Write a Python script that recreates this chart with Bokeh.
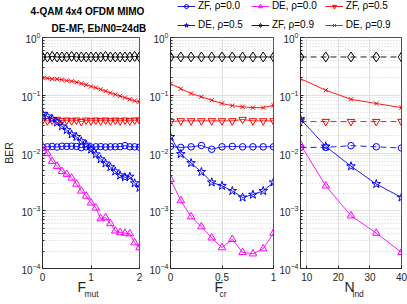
from bokeh.plotting import figure
from bokeh.layouts import row, column
from bokeh.models import ColumnDataSource, FixedTicker, Title, Legend, LegendItem
from bokeh.embed import file_html
from bokeh.resources import INLINE

# ---------------- data ----------------
F_mut = [0.0, 0.1, 0.2, 0.3, 0.4, 0.5, 0.6, 0.7, 0.8, 0.9, 1.0,
         1.1, 1.2, 1.3, 1.4, 1.5, 1.6, 1.7, 1.8, 1.9, 2.0]
mut_zf00 = [0.0125, 0.0128, 0.0130, 0.0127, 0.0131, 0.0130, 0.0131, 0.0130, 0.0124, 0.0128, 0.0127,
            0.0128, 0.0129, 0.0127, 0.0128, 0.0128, 0.0129, 0.0134, 0.0128, 0.0128, 0.0126]
mut_de00 = [0.0130, 0.0098, 0.0072, 0.0059, 0.0048, 0.0043, 0.0037, 0.0029, 0.0022, 0.0018, 0.00137,
            0.00112, 0.00073, 0.00076, 0.00060, 0.00045, 0.00042, 0.00041, 0.00040, 0.00028, 0.00023]
mut_zf05 = [0.037, 0.036, 0.037, 0.038, 0.036, 0.037, 0.036, 0.037, 0.035, 0.037, 0.036,
            0.037, 0.036, 0.037, 0.036, 0.037, 0.036, 0.037, 0.036, 0.037, 0.037]
mut_de05 = [0.048, 0.043, 0.039, 0.034, 0.029, 0.025, 0.021, 0.019, 0.016, 0.014, 0.0115,
            0.0095, 0.0078, 0.0066, 0.0057, 0.0048, 0.0041, 0.0038, 0.0039, 0.0030, 0.0025]
mut_zf09 = [0.46, 0.46, 0.47, 0.46, 0.46, 0.46, 0.47, 0.46, 0.46, 0.46, 0.46,
            0.46, 0.46, 0.47, 0.46, 0.46, 0.46, 0.46, 0.46, 0.47, 0.46]
mut_de09 = [0.200, 0.197, 0.192, 0.190, 0.186, 0.180, 0.175, 0.168, 0.160, 0.152, 0.142,
            0.135, 0.126, 0.118, 0.110, 0.103, 0.097, 0.091, 0.085, 0.080, 0.077]

F_cr = [0.0, 0.1, 0.2, 0.3, 0.4, 0.5, 0.6, 0.7, 0.8, 0.9, 1.0]
cr_zf00 = [0.0130, 0.0125, 0.0128, 0.0135, 0.0116, 0.0128, 0.0130, 0.0128, 0.0128, 0.0128, 0.0128]
cr_de00 = [0.0035, 0.0015, 0.00079, 0.00053, 0.00034, 0.00023, 0.00032, 0.00019, 0.00018, 0.00022, 0.00041]
cr_zf05 = [0.035, 0.036, 0.036, 0.036, 0.036, 0.036, 0.036, 0.038, 0.036, 0.036, 0.036]
cr_de05 = [0.019, 0.0096, 0.0067, 0.0047, 0.0031, 0.0027, 0.0022, 0.0017, 0.0019, 0.0022, 0.0031]
cr_zf09 = [0.46, 0.46, 0.46, 0.46, 0.46, 0.46, 0.46, 0.46, 0.46, 0.46, 0.46]
cr_de09 = [0.158, 0.130, 0.107, 0.094, 0.082, 0.072, 0.066, 0.063, 0.061, 0.061, 0.067]

N_ind = [8, 16, 24, 32, 40]
ind_zf00 = [0.0125, 0.0125, 0.0134, 0.0128, 0.0122]
ind_de00 = [0.014, 0.0027, 0.00082, 0.00041, 0.00019]
ind_zf05 = [0.035, 0.035, 0.035, 0.035, 0.035]
ind_de05 = [0.0387, 0.013, 0.0059, 0.0029, 0.0017]
ind_zf09 = [0.46, 0.46, 0.46, 0.46, 0.46]
ind_de09 = [0.193, 0.122, 0.085, 0.072, 0.061]

labels = ["ZF, \u03c1=0.0", "DE, \u03c1=0.0", "ZF, \u03c1=0.5",
          "DE, \u03c1=0.5", "ZF, \u03c1=0.9", "DE, \u03c1=0.9"]
y_ticks = [1e-4, 1e-3, 1e-2, 1e-1, 1.0]
y_minor = [2e-4, 3e-4, 4e-4, 5e-4, 6e-4, 7e-4, 8e-4, 9e-4,
           2e-3, 3e-3, 4e-3, 5e-3, 6e-3, 7e-3, 8e-3, 9e-3,
           2e-2, 3e-2, 4e-2, 5e-2, 6e-2, 7e-2, 8e-2, 9e-2,
           2e-1, 3e-1, 4e-1, 5e-1, 6e-1, 7e-1, 8e-1, 9e-1]

# ---------------- styles ----------------
AX = "#262626"
FONT = "Liberation Sans"
STY = [  # color, marker, size, is_zf
    ("#0000FF", "circle", 6.5, True),
    ("#FF00FF", "triangle", 7.5, False),
    ("#FF0000", "inverted_triangle", 7.5, True),
    ("#0000FF", "star", 9, False),
    ("#000000", "diamond", 10, True),
    ("#FF0000", "x", 6, False),
]


def make_panel(x, ys, xr, xticks, overrides, width, height, bl, br, bt, bb,
               dashed_zf, sym, sub, sym_off, sub_off):
    p = figure(width=width, height=height, x_range=xr, y_range=(1e-4, 1.0),
               y_axis_type="log", toolbar_location=None, output_backend="svg",
               min_border_left=bl, min_border_right=br, min_border_top=bt,
               min_border_bottom=bb)
    p.outline_line_color = AX
    p.outline_line_width = 0.8
    xt = FixedTicker(ticks=xticks)
    yt = FixedTicker(ticks=y_ticks, minor_ticks=y_minor)
    p.xaxis.ticker = xt
    p.xgrid.ticker = xt
    p.yaxis.ticker = yt
    p.ygrid.ticker = yt
    p.xaxis.major_label_overrides = overrides
    for ax in p.axis:
        ax.axis_line_color = AX
        ax.axis_line_width = 0.8
        ax.major_tick_line_color = AX
        ax.minor_tick_line_color = AX
        ax.major_tick_in = 3
        ax.major_tick_out = 0
        ax.minor_tick_in = 2
        ax.minor_tick_out = 0
        ax.major_label_text_font = FONT
        ax.major_label_text_font_size = "10px"
        ax.major_label_text_color = AX
        ax.major_label_standoff = 2
    p.xaxis.major_label_standoff = 4
    p.xaxis.minor_tick_line_color = None
    p.xgrid.grid_line_color = "#e0e0e0"
    p.ygrid.grid_line_color = "#e0e0e0"
    p.ygrid.minor_grid_line_color = "#d2d2d2"
    p.ygrid.minor_grid_line_dash = "1 2"
    for (color, marker, size, is_zf), y in zip(STY, ys):
        src = ColumnDataSource(dict(x=x, y=y))
        dash = "6 4" if (dashed_zf and is_zf) else "solid"
        p.line("x", "y", source=src, line_color=color, line_width=0.9, line_dash=dash)
        p.scatter("x", "y", source=src, marker=marker, size=size, line_color=color,
                  fill_color=None, line_width=1)
    t1 = Title(text=sym, align="left", offset=sym_off, standoff=-14,
               text_font=FONT, text_font_size="14px", text_font_style="normal",
               text_color=AX)
    p.add_layout(t1, "below")
    t2 = Title(text=sub, align="left", offset=sub_off, standoff=-2,
               text_font=FONT, text_font_size="8.5px", text_font_style="normal",
               text_color=AX)
    p.add_layout(t2, "below")
    return p


p1 = make_panel(F_mut, [mut_zf00, mut_de00, mut_zf05, mut_de05, mut_zf09, mut_de09],
                (0, 2), [0, 1, 2], {}, 146, 304, 36, 7, 37, 36, False,
                "F", "mut", 35, 42)
p1.yaxis.axis_label = "BER"
p1.yaxis.axis_label_text_font = FONT
p1.yaxis.axis_label_text_font_size = "10.5px"
p1.yaxis.axis_label_text_font_style = "normal"
p1.yaxis.axis_label_text_color = AX
p1.yaxis.axis_label_standoff = 3
p1.add_layout(Title(text="DE-MF, Eb/N0=24dB", align="left", standoff=8, offset=9,
                    text_font=FONT, text_font_size="10px", text_font_style="bold",
                    text_color="#000000"), "above")
p1.add_layout(Title(text="4-QAM 4x4 OFDM MIMO", align="left", standoff=0, offset=-12,
                    text_font=FONT, text_font_size="10px", text_font_style="bold",
                    text_color="#000000"), "above")

p2 = make_panel(F_cr, [cr_zf00, cr_de00, cr_zf05, cr_de05, cr_zf09, cr_de09],
                (0, 1), [0, 0.5, 1], {0: "0", 0.5: "0.5", 1: "1"}, 130, 274, 23, 3, 7, 36,
                False, "F", "cr", 44, 49)
p3 = make_panel(N_ind, [ind_zf00, ind_de00, ind_zf05, ind_de05, ind_zf09, ind_de09],
                (8, 40), [10, 20, 30, 40], {}, 131, 274, 22, 6, 7, 36,
                True, "N", "ind", 44, 52)

# ---------------- legend strip ----------------
lg = figure(width=261, height=30, x_range=(1000, 1001), y_range=(1000, 1001),
            toolbar_location=None, output_backend="svg",
            x_axis_location=None, y_axis_location=None,
            min_border_left=0, min_border_right=0, min_border_top=0, min_border_bottom=0)
lg.outline_line_color = None
lg.xgrid.visible = False
lg.ygrid.visible = False
items = []
for lab, (color, marker, size, is_zf), y in zip(
        labels, STY, [ind_zf00, ind_de00, ind_zf05, ind_de05, ind_zf09, ind_de09]):
    src = ColumnDataSource(dict(x=N_ind, y=y))
    r1 = lg.line("x", "y", source=src, line_color=color, line_width=0.9)
    r2 = lg.scatter("x", "y", source=src, marker=marker, size=size, line_color=color,
                    fill_color=None, line_width=1)
    items.append(LegendItem(label=lab, renderers=[r1, r2]))
leg = Legend(items=items, location=(31, 0), orientation="horizontal", nrows=2,
             glyph_width=18, glyph_height=10, label_height=10, label_standoff=3,
             spacing=8, padding=0, margin=0, border_line_alpha=0,
             background_fill_alpha=0, label_text_font=FONT,
             label_text_font_size="10px", label_text_color="#000000")
lg.add_layout(leg)

layout = row(p1, column(lg, row(p2, p3)))
open("out.html", "w").write(file_html(layout, INLINE))
